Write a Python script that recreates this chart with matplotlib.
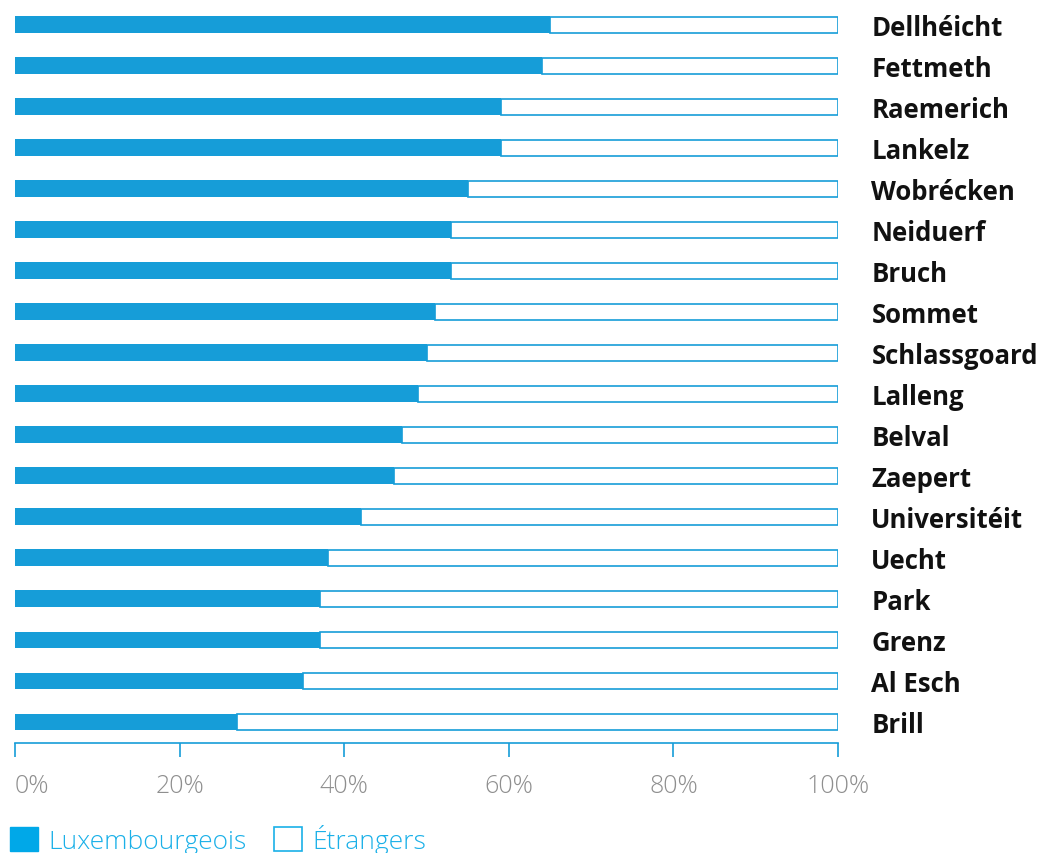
import matplotlib
matplotlib.use("Agg")
import matplotlib.pyplot as plt
from matplotlib.patches import Patch

categories = ["Dellhéicht", "Fettmeth", "Raemerich", "Lankelz", "Wobrécken", "Neiduerf",
              "Bruch", "Sommet", "Schlassgoard", "Lalleng", "Belval", "Zaepert",
              "Universitéit", "Uecht", "Park", "Grenz", "Al Esch", "Brill"]
luxembourgeois = [65, 64, 59, 59, 55, 53, 53, 51, 50, 49, 47, 46, 42, 38, 37, 37, 35, 27]
etrangers = [100 - v for v in luxembourgeois]
xticks = [0, 20, 40, 60, 80, 100]
xticklabels = ["0%", "20%", "40%", "60%", "80%", "100%"]

BLUE = "#169dd8"
LEG_BLUE = "#00a8e8"
LEG_TEXT = "#1ab0e8"

plt.rcParams['font.family'] = ['Open Sans', 'DejaVu Sans']

W, H = 1048, 854
fig = plt.figure(figsize=(W / 100, H / 100), dpi=100)
ax = fig.add_axes([15 / W, 1 - 743.5 / H, (838 - 15) / W, (743.5 - 5) / H])

y = list(range(len(categories)))
ax.barh(y, luxembourgeois, height=0.41, color=BLUE, edgecolor='none', label="Luxembourgeois")
ax.barh(y, etrangers, left=luxembourgeois, height=0.39, color='white',
        edgecolor=BLUE, linewidth=1.2, label="Étrangers")

ax.set_xlim(0, 100)
ax.set_ylim(len(categories) - 0.5, -0.5)

for s in ['top', 'left', 'right']:
    ax.spines[s].set_visible(False)
ax.spines['bottom'].set_color(BLUE)
ax.spines['bottom'].set_linewidth(1.2)

ax.set_xticks(xticks)
ax.set_xticklabels(xticklabels)
ax.tick_params(axis='x', length=10, width=1.2, color=BLUE, pad=12,
               labelsize=18, labelcolor='#8f8f8f')
for lab in ax.get_xticklabels():
    lab.set_fontweight('light')
ax.get_xticklabels()[0].set_ha('left')

ax.yaxis.tick_right()
ax.set_yticks(y)
ax.set_yticklabels(categories)
ax.tick_params(axis='y', length=0, pad=24, labelsize=18.5, labelcolor='#111111')
for lab in ax.get_yticklabels():
    lab.set_fontweight('bold')
    lab.set_ha('left')

handles = [Patch(facecolor=LEG_BLUE, edgecolor=LEG_BLUE),
           Patch(facecolor='white', edgecolor=LEG_TEXT, linewidth=1.2)]
leg = fig.legend(handles, ["Luxembourgeois", "Étrangers"], loc='center left',
                 bbox_to_anchor=(10 / W, 1 - 840 / H), ncol=2, frameon=False,
                 fontsize=19, handlelength=1.05, handleheight=1.05, handletextpad=0.4,
                 columnspacing=1.05, borderpad=0, borderaxespad=0)
for t in leg.get_texts():
    t.set_color(LEG_TEXT)
    t.set_fontweight('light')

fig.savefig("out.png", dpi=100)
